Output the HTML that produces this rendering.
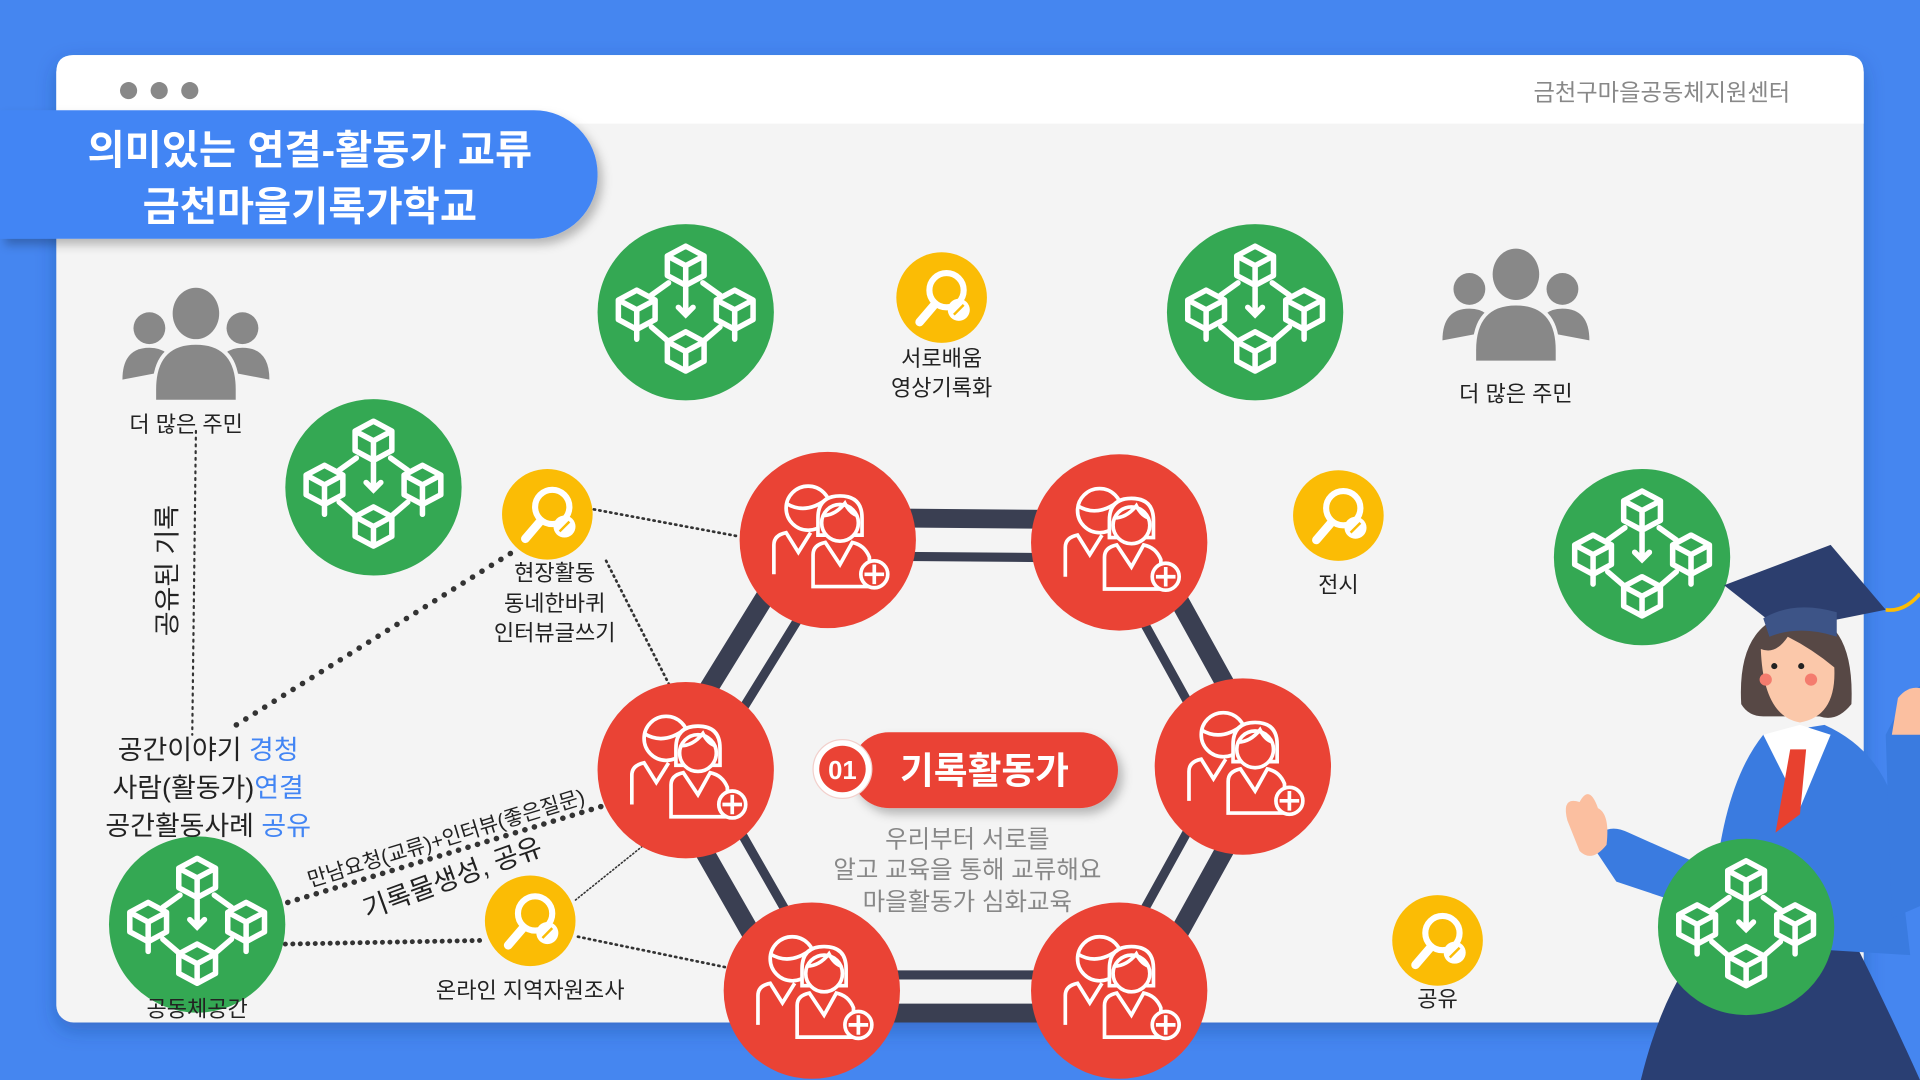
<!DOCTYPE html>
<html><head><meta charset="utf-8"><style>
html,body{margin:0;padding:0;width:1920px;height:1080px;overflow:hidden;background:#4586f0}
svg{display:block}
text{font-family:"Liberation Sans","Noto Sans CJK KR",sans-serif}
</style></head><body>
<svg width="1920" height="1080" viewBox="0 0 1568 882" xmlns="http://www.w3.org/2000/svg">
<defs>
<filter id="sh" x="-10%" y="-10%" width="120%" height="130%"><feDropShadow dx="0" dy="6" stdDeviation="8" flood-color="#1a3a80" flood-opacity="0.35"/></filter>
<filter id="sh2" x="-10%" y="-20%" width="130%" height="150%"><feDropShadow dx="4" dy="5" stdDeviation="4" flood-color="#000" flood-opacity="0.25"/></filter>
<g id="cube"><path d="M0,-16 L15,-8 L15,8 L0,16 L-15,8 L-15,-8 Z M-15,-8 L0,0 L15,-8 M0,0 L0,16" fill="none" stroke="#fff" stroke-width="4.5" stroke-linejoin="round"/></g>
<g id="net">
<circle r="72" fill="#34a853"/>
<use href="#cube" x="0" y="-38"/><use href="#cube" x="-40" y="-2"/><use href="#cube" x="40" y="-2"/><use href="#cube" x="0" y="32"/>
<path d="M0,-20 V2 M-6,-4 L0,2 L6,-4 M-14,-24 L-28,-14 M14,-24 L28,-14 M-28,12 L-14,24 M28,12 L14,24 M-40,14 V22 M40,14 V22" fill="none" stroke="#fff" stroke-width="4.5" stroke-linecap="round"/>
</g>
<g id="mag">
<circle r="37" fill="#fbbc05"/>
<circle cx="4" cy="-6" r="14" fill="none" stroke="#fff" stroke-width="5"/>
<line x1="-6" y1="6" x2="-18" y2="20" stroke="#fff" stroke-width="7" stroke-linecap="round"/>
<circle cx="14" cy="10" r="9" fill="#fff"/>
<path d="M10,14 L18,6" stroke="#fbbc05" stroke-width="2"/>
</g>
<g id="ppl">
<circle r="72" fill="#ea4335"/>
<g fill="none" stroke="#fff" stroke-width="3">
<circle cx="-16" cy="-26" r="18"/>
<path d="M-34,-30 Q-18,-20 0,-34"/>
<path d="M-44,28 V4 Q-44,-4 -34,-6 L-24,10 L-14,-6"/>
<path d="M-8,-18 Q-8,-36 10,-36 Q28,-36 28,-18 V-4 H-8 Z" fill="#ea4335"/>
<circle cx="10" cy="-14" r="15" fill="#ea4335"/>
<path d="M-4,-20 Q6,-20 14,-30 Q18,-22 24,-20"/>
<path d="M-12,38 V12 Q-12,4 -2,2 L10,20 L20,2 Q30,4 34,14 V38 Z" fill="#ea4335"/>
<circle cx="38" cy="28" r="11" fill="#ea4335"/>
<path d="M38,20 V36 M30,28 H46"/>
</g>
</g>
<g id="grp" fill="#888">
<circle cx="-38" cy="-30" r="13"/><circle cx="38" cy="-30" r="13"/>
<path d="M-60,12 Q-60,-14 -38,-14 Q-20,-14 -18,4 Z"/><path d="M60,12 Q60,-14 38,-14 Q20,-14 18,4 Z"/>
<ellipse cx="0" cy="-42" rx="19" ry="21"/>
<path d="M-34,20 Q-34,-18 0,-18 Q34,-18 34,20 V30 H-34 Z" stroke="#f4f4f4" stroke-width="3"/>
</g>
</defs>

<!-- window -->
<g filter="url(#sh)"><rect x="46" y="45" width="1476" height="790" rx="14" fill="#f4f4f4"/></g>
<path d="M60,45 H1508 Q1522,45 1522,59 V101 H46 V59 Q46,45 60,45 Z" fill="#fff"/>
<circle cx="105" cy="74" r="7" fill="#888"/><circle cx="130" cy="74" r="7" fill="#888"/><circle cx="155" cy="74" r="7" fill="#888"/>
<text x="1462" y="82" text-anchor="end" font-size="19" fill="#888">금천구마을공동체지원센터</text>

<!-- title banner -->
<g filter="url(#sh2)"><path d="M0,90 H436 A52,52 0 0 1 488,142 V143 A52,52 0 0 1 436,195 H0 Z" fill="#4285f4"/></g>
<text x="253" y="134" text-anchor="middle" font-size="33" font-weight="bold" fill="#fff">의미있는 연결-활동가 교류</text>
<text x="253" y="180" text-anchor="middle" font-size="33" font-weight="bold" fill="#fff">금천마을기록가학교</text>

<!-- dotted connectors -->
<g fill="none" stroke="#333" stroke-linecap="round">
<path d="M160,352 L157,600" stroke-width="1.8" stroke-dasharray="1.5 4"/>
<path d="M193,592 L420,450" stroke-width="4.5" stroke-dasharray="0.1 9"/>
<path d="M485,416 L603,438" stroke-width="2.2" stroke-dasharray="1 3.5"/>
<path d="M495,458 L548,562" stroke-width="2.2" stroke-dasharray="1 3.5"/>
<path d="M235,737 L493,658" stroke-width="4.5" stroke-dasharray="0.1 8"/>
<path d="M233,771 L395,768" stroke-width="4" stroke-dasharray="0.1 6"/>
<path d="M472,765 L593,790" stroke-width="2.2" stroke-dasharray="1 3.5"/>
<path d="M470,735 L526,690" stroke-width="1.3" stroke-dasharray="1 2"/>
</g>

<!-- hexagon -->
<g fill="none" stroke="#3a3f52" stroke-linejoin="round">
<polygon transform="translate(787,626) scale(1.1) translate(-787,-626)" points="676,441 914,443 1015,626 914,809 663,809 560,629" stroke-width="14"/>
<polygon transform="translate(787,626) scale(0.93) translate(-787,-626)" points="676,441 914,443 1015,626 914,809 663,809 560,629" stroke-width="8"/>
</g>

<!-- nodes -->
<use href="#net" x="560" y="255"/><use href="#net" x="1025" y="255"/><use href="#net" x="305" y="398"/>
<use href="#net" x="1341" y="455"/><use href="#net" x="161" y="755"/>
<use href="#mag" x="769" y="243"/><use href="#mag" x="447" y="420"/><use href="#mag" x="1093" y="421"/>
<use href="#mag" x="433" y="752"/><use href="#mag" x="1174" y="768"/>
<use href="#ppl" x="676" y="441"/><use href="#ppl" x="914" y="443"/><use href="#ppl" x="560" y="629"/>
<use href="#ppl" x="1015" y="626"/><use href="#ppl" x="663" y="809"/><use href="#ppl" x="914" y="809"/>
<use href="#grp" x="160" y="298"/><use href="#grp" x="1238" y="266"/>

<!-- labels -->
<g font-size="18" fill="#222" text-anchor="middle">
<text x="152" y="353">더 많은 주민</text>
<text x="1238" y="328">더 많은 주민</text>
<text x="769" y="299">서로배움</text><text x="769" y="323">영상기록화</text>
<text x="453" y="474">현장활동</text><text x="453" y="499">동네한바퀴</text><text x="453" y="523">인터뷰글쓰기</text>
<text x="1093" y="484">전시</text>
<text x="1174" y="822">공유</text>
<text x="433" y="815">온라인 지역자원조사</text>
<text x="161" y="830">공동체공간</text>
</g>
<text transform="translate(144,466) rotate(-90)" text-anchor="middle" font-size="22" fill="#222">공유된 기록</text>
<g font-size="22" fill="#222" text-anchor="middle">
<text x="170" y="620">공간이야기 <tspan fill="#4285f4">경청</tspan></text>
<text x="170" y="651">사람(활동가)<tspan fill="#4285f4">연결</tspan></text>
<text x="170" y="682">공간활동사례 <tspan fill="#4285f4">공유</tspan></text>
</g>
<text transform="translate(366,690) rotate(-17)" text-anchor="middle" font-size="17" fill="#222">만남요청(교류)+인터뷰(좋은질문)</text>
<text transform="translate(372,724) rotate(-20)" text-anchor="middle" font-size="22" fill="#222">기록물생성, 공유</text>

<!-- center badge -->
<g filter="url(#sh2)"><rect x="695" y="598" width="218" height="62" rx="31" fill="#ea4335"/></g>
<circle cx="688" cy="628" r="24" fill="#fff" stroke="#f2d0cc" stroke-width="1"/>
<circle cx="688" cy="628" r="19" fill="#ea4335"/>
<text x="688" y="636" text-anchor="middle" font-size="21" font-weight="bold" fill="#fff">01</text>
<text x="804" y="640" text-anchor="middle" font-size="30" font-weight="bold" fill="#fff">기록활동가</text>
<g font-size="20" fill="#888" text-anchor="middle">
<text x="790" y="692">우리부터 서로를</text>
<text x="790" y="717">알고 교육을 통해 교류해요</text>
<text x="790" y="743">마을활동가 심화교육</text>
</g>

<!-- graduate girl -->
<g>
<path d="M1340,882 Q1360,800 1400,760 L1510,760 Q1540,820 1568,882 Z" fill="#2a3f73"/>
<path d="M1300,690 Q1310,670 1330,680 L1420,720 L1410,750 L1320,720 Z" fill="#3a7be0"/>
<path d="M1398,770 Q1400,650 1440,600 L1490,592 Q1530,610 1545,650 L1560,780 Z" fill="#3a7be0"/>
<path d="M1540,600 Q1555,570 1568,560 V740 L1545,750 Z" fill="#3a7be0"/>
<path d="M1440,600 L1470,592 L1495,600 L1470,660 Z" fill="#fff"/>
<path d="M1462,612 L1475,612 L1470,665 L1450,680 Z" fill="#e8412f"/>
<path d="M1280,670 Q1275,650 1290,655 Q1298,640 1305,660 Q1315,665 1312,690 Q1300,705 1290,695 Z" fill="#fbbfa0"/>
<path d="M1545,600 L1550,570 Q1558,560 1568,562 V600 Z" fill="#fbbfa0"/>
<path d="M1422,575 Q1418,505 1470,500 Q1515,505 1512,575 Q1500,590 1486,585 L1440,585 Q1428,585 1422,575 Z" fill="#574845"/>
<path d="M1438,530 Q1440,585 1470,590 Q1500,585 1498,545 Q1480,530 1460,520 Q1450,535 1438,530 Z" fill="#fbc8aa"/>
<circle cx="1442" cy="555" r="5" fill="#f47c6e"/><circle cx="1479" cy="555" r="5" fill="#f47c6e"/>
<circle cx="1449" cy="544" r="2.5" fill="#222"/><circle cx="1471" cy="544" r="2.5" fill="#222"/>
<path d="M1408,478 L1495,445 L1540,498 L1455,515 Z" fill="#2c3e6e"/>
<path d="M1440,505 Q1465,490 1500,500 L1500,520 Q1470,510 1445,520 Z" fill="#3d5487"/>
<path d="M1540,498 Q1555,500 1568,485" fill="none" stroke="#fbbc05" stroke-width="3"/>
</g>
<use href="#net" x="1426" y="757"/>
</svg>
</body></html>
